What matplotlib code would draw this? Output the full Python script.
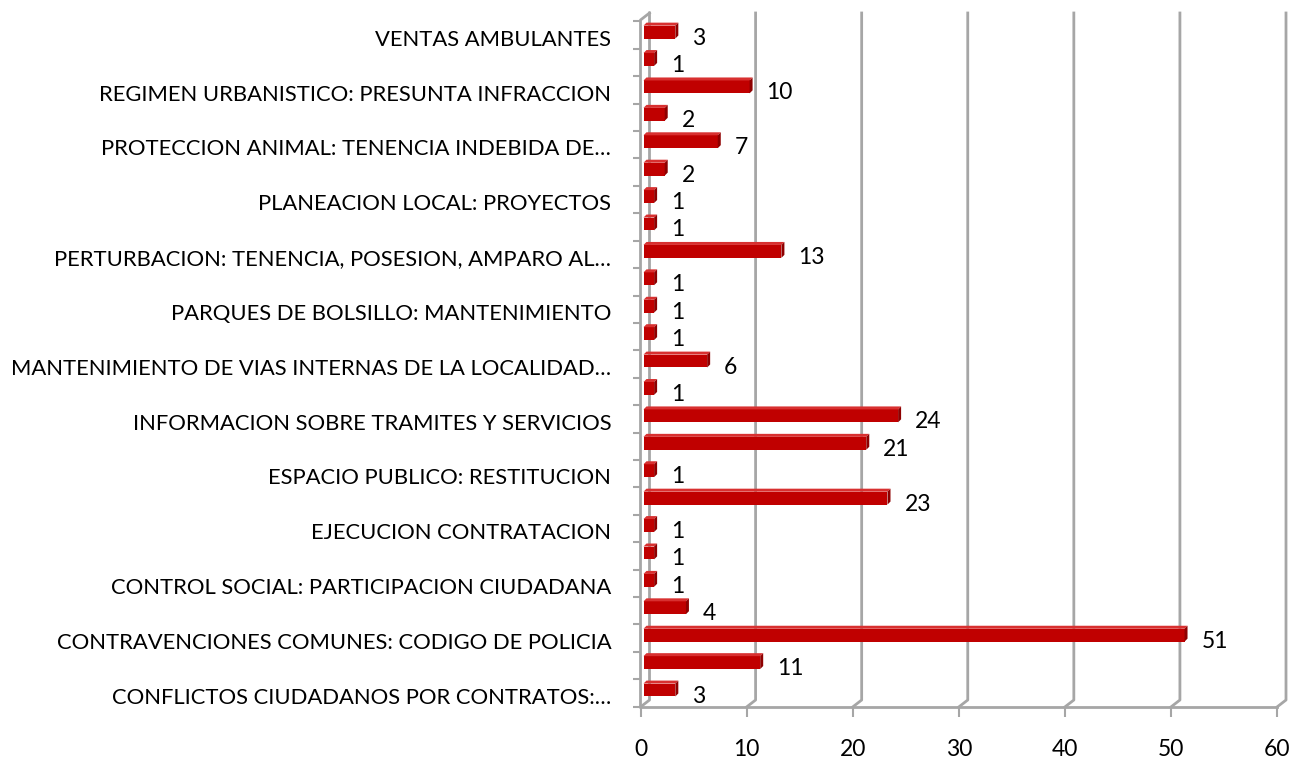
import matplotlib
matplotlib.use("Agg")
import matplotlib.pyplot as plt
from matplotlib.patches import Polygon

# -----------------------------
# Data (bottom to top)
# -----------------------------

categories = [
    "CONFLICTOS CIUDADANOS POR CONTRATOS:…", "",
    "CONTRAVENCIONES COMUNES: CODIGO DE POLICIA", "",
    "CONTROL SOCIAL: PARTICIPACION CIUDADANA", "",
    "EJECUCION CONTRATACION", "",
    "ESPACIO PUBLICO: RESTITUCION", "",
    "INFORMACION SOBRE TRAMITES Y SERVICIOS", "",
    "MANTENIMIENTO DE VIAS INTERNAS DE LA LOCALIDAD…", "",
    "PARQUES DE BOLSILLO: MANTENIMIENTO", "",
    "PERTURBACION: TENENCIA, POSESION, AMPARO AL…", "",
    "PLANEACION LOCAL: PROYECTOS", "",
    "PROTECCION ANIMAL: TENENCIA INDEBIDA DE…", "",
    "REGIMEN URBANISTICO: PRESUNTA INFRACCION", "",
    "VENTAS AMBULANTES",
]
values = [3, 11, 51, 4, 1, 1, 1, 23, 1, 21, 24, 1, 6, 1, 1, 1, 13, 1, 1, 2, 7, 2, 10, 1, 3]
x_ticks = [0, 10, 20, 30, 40, 50, 60]

# -----------------------------
# Figure
# -----------------------------

plt.rcParams["font.family"] = ["Lato", "DejaVu Sans"]
W, H = 1296, 761
fig = plt.figure(figsize=(W / 100, H / 100), dpi=100)
x0, x1, y0, y1 = 640.5, 1277, 707, 20
ax = fig.add_axes([x0 / W, 1 - y0 / H, (x1 - x0) / W, (y0 - y1) / H])
ax.set_xlim(0, 60)
ax.set_ylim(-0.51, 24.55)
for s in ax.spines.values():
    s.set_visible(False)

# pixel sizes in data units
px = 60 / (x1 - x0)
py = (24.55 + 0.51) / (y0 - y1)

grid_c = "#A6A6A6"
dx, dy = 9 * px, 7 * py
ytop = 24.55 + dy

# back wall gridlines + floor diagonals
for t in x_ticks:
    ax.plot([t + dx, t + dx, t], [ytop, -0.51 + dy, -0.51], color=grid_c,
            lw=2, clip_on=False, zorder=1)
# front floor edge
ax.plot([0, 60], [-0.51, -0.51], color=grid_c, lw=2, clip_on=False, zorder=1)
# left wall front edge
ax.plot([0, 0, dx], [-0.51, 24.55, ytop], color=grid_c, lw=2, clip_on=False, zorder=1)

# -----------------------------
# 3D-ish bars
# -----------------------------

ypos = list(range(len(values)))
bh = 0.47
sx, sy = 3 * px, 3 * py      # bar shift into the depth
ex, ey = 3 * px, 3 * py      # side face depth
red, dark, light = "#C00000", "#8E0000", "#D83030"

for y, v in zip(ypos, values):
    bx0, bx1 = sx, v + sx
    yb, yt = y - bh / 2 + sy, y + bh / 2 + sy
    ax.add_patch(Polygon([(bx0, yb), (bx1, yb), (bx1, yt), (bx0, yt)],
                         closed=True, fc=red, ec="none", zorder=3))
    ax.add_patch(Polygon([(bx0, yt), (bx1, yt), (bx1 + ex, yt + ey), (bx0 + ex, yt + ey)],
                         closed=True, fc=light, ec="none", zorder=3))
    ax.add_patch(Polygon([(bx1, yb), (bx1 + ex, yb + ey), (bx1 + ex, yt + ey), (bx1, yt)],
                         closed=True, fc=dark, ec="none", zorder=3))
    ax.text(v + 20 * px, y - 3 * py, str(v), ha="left", va="center",
            fontsize=16.5, color="black", zorder=4)

# -----------------------------
# Axes ticks and labels
# -----------------------------

ax.set_xticks(x_ticks)
ax.set_xticklabels([str(t) for t in x_ticks], fontsize=16.5)
ax.tick_params(axis="x", length=7, width=1.5, color=grid_c, pad=16)

label_pos = [y - 0.1 for y, c in zip(ypos, categories) if c]
ax.set_yticks(label_pos)
ax.set_yticklabels([c for c in categories if c], fontsize=15.8)
ax.tick_params(axis="y", length=0, pad=21)
ax.set_yticks([y + 0.5 for y in range(-1, len(values))], minor=True)
ax.tick_params(axis="y", which="minor", length=6, width=1.5, color=grid_c)

fig.savefig("out.png", dpi=100)
